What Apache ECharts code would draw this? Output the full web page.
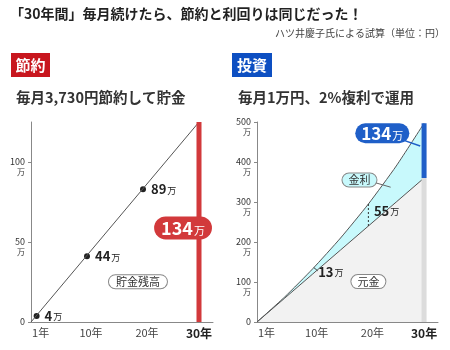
<!DOCTYPE html>
<html><head><meta charset="utf-8">
<script src="https://cdn.jsdelivr.net/npm/echarts@6/dist/echarts.min.js"></script>
<style>html,body{margin:0;padding:0;background:#fff}#c{width:450px;height:350px}</style>
</head><body><div id="c"></div>
<script>
// ---- data ----
const tickYears = [1, 10, 20, 30];
const leftYTicks = [0, 50, 100];
const rightYTicks = [0, 100, 200, 300, 400, 500];
const savingLine = [[0, 0], [30, 134]];
const savingYears = [1, 10, 20];
const savingValues = [4, 44, 89];
const savingFinal = 134;
const investYears = [0, 5, 10, 15, 20, 25, 30];
const principal = [0, 60, 120, 180, 240, 300, 360];
const total = [0, 63, 133, 210, 295, 390, 497];
const interestYears = [10, 20];
const interestValues = [13, 55];
const interestFinal = 134;

const FONT = "'Noto Sans CJK JP', sans-serif";
const chart = echarts.init(document.getElementById('c'), null, {renderer: 'canvas'});

function xAxisFor(gi) {
  return {
    type: 'value', gridIndex: gi, min: 0, max: 32.5,
    axisLine: {show: true, lineStyle: {color: '#888', width: 1}},
    axisTick: {show: false}, splitLine: {show: false},
    axisLabel: {
      customValues: tickYears, margin: 5, fontFamily: FONT,
      formatter: v => v === 30 ? '{b|30年}' : '{a|' + v + '年}',
      rich: {a: {fontSize: 11, color: '#444', fontFamily: FONT, padding: [0, 0, 0, 8]},
             b: {fontSize: 12, color: '#222', fontWeight: 'bold', fontFamily: FONT}}
    }
  };
}
function yLabel() {
  return {
    margin: 6, fontFamily: FONT,
    formatter: v => v === 0 ? '{n|0}' : '{s| }\n{n|' + v + '}\n{u|万}',
    rich: {s: {fontSize: 8, lineHeight: 9}, n: {fontSize: 9, color: '#333', lineHeight: 10, align: 'right', fontFamily: FONT},
           u: {fontSize: 8, color: '#333', lineHeight: 10, align: 'right', fontFamily: FONT}}
  };
}

const pill = (bg) => ({
  show: true, position: 'inside', color: '#333', fontSize: 11, fontFamily: FONT,
  backgroundColor: bg, borderColor: '#888', borderWidth: 1, borderRadius: 9,
  padding: [1, 7, 1, 7]
});
const numLabel = {
  show: true, position: 'right', distance: 5, fontFamily: FONT,
  rich: {n: {fontSize: 13, fontWeight: 'bold', color: '#222', fontFamily: FONT},
         u: {fontSize: 9, color: '#222', fontFamily: FONT, padding: [2, 0, 0, 1]}}
};
const ghost = {color: 'rgba(0,0,0,0)', opacity: 1};
function note(xi, yi, coord, label) {
  return {type: 'scatter', xAxisIndex: xi, yAxisIndex: yi, symbolSize: 1, z: 5, silent: true,
    itemStyle: ghost, emphasis: {disabled: true}, data: [coord], label: label};
}

const option = {
  animation: false,
  textStyle: {fontFamily: FONT},
  grid: [
    {left: 31, right: 237, top: 122, bottom: 28, containLabel: false},
    {left: 257, right: 12, top: 122, bottom: 28, containLabel: false}
  ],
  xAxis: [xAxisFor(0), xAxisFor(1)],
  yAxis: [
    {type: 'value', gridIndex: 0, min: 0, max: 125,
     axisLine: {show: true, lineStyle: {color: '#888'}},
     axisTick: {show: true, customValues: leftYTicks, length: 3, lineStyle: {color: '#888'}},
     splitLine: {show: false},
     axisLabel: Object.assign(yLabel(), {customValues: leftYTicks})},
    {type: 'value', gridIndex: 0, min: 0, max: savingFinal, show: false},
    {type: 'value', gridIndex: 1, min: 0, max: 500, interval: 100,
     axisLine: {show: true, lineStyle: {color: '#888'}},
     axisTick: {show: true, length: 3, lineStyle: {color: '#888'}},
     splitLine: {show: false},
     axisLabel: yLabel()}
  ],
  series: [
    // left: saving
    {type: 'line', xAxisIndex: 0, yAxisIndex: 1, data: savingLine, symbol: 'none',
     lineStyle: {color: '#555', width: 1}},
    {type: 'line', xAxisIndex: 0, yAxisIndex: 1, data: [[30, 0], [30, savingFinal]], symbol: 'none',
     lineStyle: {color: '#d2393b', width: 5, cap: 'butt'}},
    {type: 'scatter', xAxisIndex: 0, yAxisIndex: 1, symbolSize: 6, itemStyle: {color: '#222', opacity: 1},
     data: savingYears.map((y, i) => [y, savingValues[i]]),
     label: Object.assign({}, numLabel, {formatter: p => '{n|' + p.value[1] + '}{u|万}'})},
    note(0, 1, [27.15, 63], {show: true, position: 'inside', formatter: () => '{n|' + savingFinal + '}{u|万}',
       backgroundColor: '#d2393b', borderRadius: 12, padding: [3, 7, 2, 7],
       rich: {n: {fontSize: 18, fontWeight: 'bold', color: '#fff', fontFamily: FONT},
              u: {fontSize: 11, color: '#fff', fontFamily: FONT, padding: [4, 0, 0, 1]}}}),
    note(0, 1, [19.1, 27], Object.assign(pill('#fff'), {formatter: '貯金残高'})),

    // right: investment
    {type: 'line', xAxisIndex: 1, yAxisIndex: 2, data: investYears.map((y, i) => [y, total[i]]),
     symbol: 'none', smooth: 0.2, lineStyle: {color: '#555', width: 1},
     areaStyle: {color: '#c8f9fc', opacity: 1}},
    {type: 'line', xAxisIndex: 1, yAxisIndex: 2, data: investYears.map((y, i) => [y, principal[i]]),
     symbol: 'none', lineStyle: {color: '#555', width: 1},
     areaStyle: {color: '#f2f2f2', opacity: 1}},
    {type: 'line', xAxisIndex: 1, yAxisIndex: 2, data: [[30, 0], [30, principal[6]]], symbol: 'none',
     lineStyle: {color: '#dcdcdc', width: 5, cap: 'butt'}},
    {type: 'line', xAxisIndex: 1, yAxisIndex: 2, data: [[30, principal[6]], [30, total[6]]], symbol: 'none',
     lineStyle: {color: '#1f5fc8', width: 5, cap: 'butt'}},
    {type: 'line', xAxisIndex: 1, yAxisIndex: 2, data: [[20, principal[4]], [20, total[4]]], symbol: 'none',
     lineStyle: {color: '#333', width: 1, type: [2, 2]}},
    note(1, 2, [interestYears[0], 126], Object.assign({}, numLabel, {formatter: '{n|' + interestValues[0] + '}{u|万}'})),
    note(1, 2, [interestYears[1], 278], Object.assign({}, numLabel, {formatter: '{n|' + interestValues[1] + '}{u|万}'})),
    // bubble tail + leaders
    {type: 'line', xAxisIndex: 1, yAxisIndex: 2, data: [[26.0, 456], [29.3, 440]], symbol: 'none',
     lineStyle: {color: '#1f5fc8', width: 1.5}},
    {type: 'line', xAxisIndex: 1, yAxisIndex: 2, data: [[21.3, 348], [24.0, 337]], symbol: 'none',
     lineStyle: {color: '#666', width: 1}},
    {type: 'line', xAxisIndex: 1, yAxisIndex: 2, data: [[10.2, 136], [10.9, 128]], symbol: 'none',
     lineStyle: {color: '#444', width: 1}},
    note(1, 2, [22.5, 472], {show: true, position: 'inside', formatter: () => '{n|' + interestFinal + '}{u|万}',
       backgroundColor: '#1f5fc8', borderRadius: 11, padding: [2, 6, 1, 6],
       rich: {n: {fontSize: 17, fontWeight: 'bold', color: '#fff', fontFamily: FONT},
              u: {fontSize: 11, color: '#fff', fontFamily: FONT, padding: [4, 0, 0, 1]}}}),
    note(1, 2, [18.4, 355], Object.assign(pill('#c8f9fc'), {formatter: '金利', padding: [1, 6, 1, 6]})),
    note(1, 2, [20.0, 101], Object.assign(pill('#fff'), {formatter: '元金', padding: [1, 6, 1, 6]}))
  ],
  graphic: [
    {type: 'text', left: 10, top: 7, style: {text: '「30年間」毎月続けたら、節約と利回りは同じだった！',
      fontSize: 14, fontWeight: 'bold', fill: '#222', fontFamily: FONT}},
    {type: 'text', right: 5, top: 28, style: {text: 'ハツ井慶子氏による試算（単位：円）',
      fontSize: 10, fill: '#444', fontFamily: FONT}},
    {type: 'rect', shape: {x: 11, y: 53, width: 39, height: 24}, style: {fill: '#c8161e'}},
    {type: 'text', x: 30.5, y: 65, style: {text: '節約', fontSize: 15, fontWeight: 'bold', fill: '#fff',
      align: 'center', verticalAlign: 'middle', fontFamily: FONT}},
    {type: 'rect', shape: {x: 232, y: 53, width: 40, height: 24}, style: {fill: '#0d4fc2'}},
    {type: 'text', x: 252, y: 65, style: {text: '投資', fontSize: 15, fontWeight: 'bold', fill: '#fff',
      align: 'center', verticalAlign: 'middle', fontFamily: FONT}},
    {type: 'text', x: 16, y: 97, style: {text: '毎月3,730円節約して貯金', fontSize: 14.5, fontWeight: 'bold',
      fill: '#333', verticalAlign: 'middle', fontFamily: FONT}},
    {type: 'text', x: 238, y: 97, style: {text: '毎月1万円、2%複利で運用', fontSize: 14.5, fontWeight: 'bold',
      fill: '#333', verticalAlign: 'middle', fontFamily: FONT}}
  ]
};
chart.setOption(option);
</script></body></html>
